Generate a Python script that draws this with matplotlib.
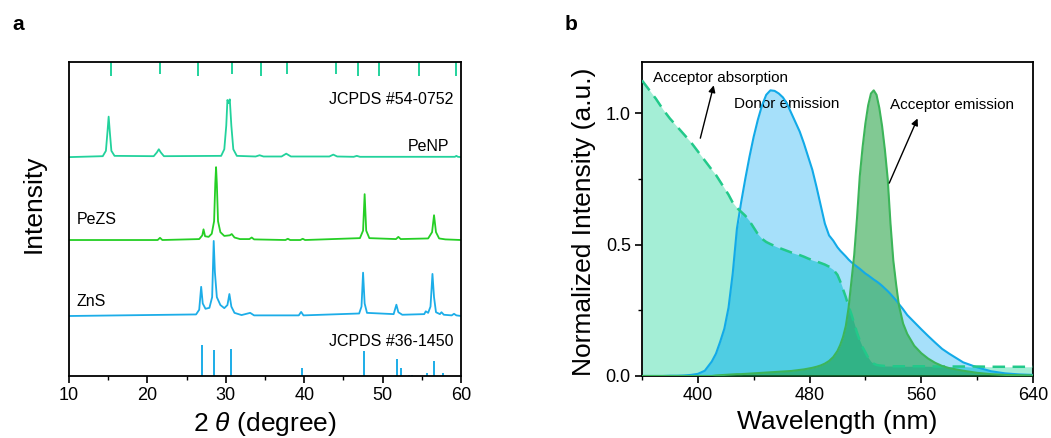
import numpy as np
import matplotlib
matplotlib.use("Agg")
import matplotlib.pyplot as plt
from matplotlib.ticker import MultipleLocator

plt.rcParams['font.family'] = ['Liberation Sans', 'DejaVu Sans']
plt.rcParams['mathtext.fontset'] = 'custom'
plt.rcParams['mathtext.rm'] = 'Liberation Sans'
plt.rcParams['mathtext.it'] = 'Liberation Sans:italic'

# ---------------- Panel a data (XRD) ----------------
penp_2theta = [10, 14.3, 14.7, 14.9, 15.05, 15.2, 15.4, 15.8, 20.8, 21.2, 21.45, 21.7, 22.1,
               29.4, 29.8, 30.05, 30.2, 30.35, 30.5, 30.7, 30.95, 31.4, 33.8, 34.3, 34.8,
               37.1, 37.7, 38.3, 43.2, 43.7, 44.2, 46.3, 46.7, 47.1, 59.2, 59.4, 59.6, 60]
penp_int = [0, 0.3, 2, 8, 12.9, 8, 2, 0.4, 0.3, 1.5, 2.5, 1.5, 0.3,
            0.4, 2.5, 10, 18.2, 17.2, 18.4, 10, 2.5, 0.4, 0.2, 0.6, 0.2,
            0.2, 1.1, 0.2, 0.2, 0.8, 0.2, 0.1, 0.4, 0.1, 0.1, 0.4, 0.1, 0]

pezs_2theta = [10, 21.3, 21.6, 21.9, 26.6, 27.0, 27.15, 27.35, 27.8, 28.2, 28.5, 28.65, 28.75,
               28.85, 29.0, 29.3, 29.8, 30.5, 30.75, 31.1, 31.8, 33.0, 33.3, 33.6, 37.6, 37.9,
               38.2, 39.5, 39.8, 40.1, 47.1, 47.5, 47.7, 47.9, 48.3, 51.7, 52.0, 52.3,
               55.8, 56.3, 56.55, 56.8, 57.2, 58, 60]
pezs_int = [0, 0, 0.7, 0, 0.3, 1.5, 3.4, 1.2, 1.0, 2, 6, 18, 23.2,
            18, 6, 2.5, 1.3, 1.5, 1.9, 0.8, 0.3, 0.3, 0.8, 0.2, 0, 0.4,
            0, 0, 0.4, 0, 0.6, 3, 14.6, 3, 0.6, 0.3, 1.0, 0.3,
            0.5, 2.5, 7.9, 2.5, 0.5, 0.2, 0]

zns_2theta = [10, 26.2, 26.6, 26.85, 27.05, 27.4, 27.9, 28.25, 28.45, 28.6, 28.85, 29.3, 29.8,
              30.2, 30.45, 30.7, 31.1, 32.0, 33.1, 33.6, 39.3, 39.6, 39.9, 47.0, 47.3, 47.5,
              47.7, 48.0, 51.4, 51.75, 52.0, 52.5, 55.3, 55.5, 55.8, 56.1, 56.35, 56.55, 56.8,
              57.3, 57.5, 57.8, 58.8, 59.1, 59.4, 60]
zns_int = [0, 0.5, 2, 9.3, 4, 2.3, 2.6, 6, 23.9, 14, 6, 3.5, 2.5,
           3.5, 7, 3, 1, 0.3, 1.0, 0.2, 0.2, 1.3, 0.2, 0.8, 3, 13.8,
           4, 1, 0.6, 3.6, 1.2, 0.4, 0.6, 1.5, 1.0, 3, 13.4, 6, 1.2,
           0.6, 1.2, 0.4, 0.2, 0.7, 0.2, 0]

jcpds_54_0752_pos = [15.3, 21.6, 26.5, 30.8, 34.45, 37.85, 44.05, 46.8, 49.5, 54.6, 59.35]
jcpds_54_0752_len = [4.5, 3.8, 4.5, 3.8, 4.5, 3.8, 3.8, 4.5, 4.5, 4.5, 4.5]

jcpds_36_1450_pos = [27.0, 28.55, 30.6, 39.7, 47.6, 51.8, 52.4, 53.3, 53.8, 55.6, 56.55, 57.65]
jcpds_36_1450_int = [9.9, 8.3, 8.6, 2.6, 8.0, 5.3, 2.5, 0.4, 0.4, 1.1, 4.7, 1.1]

# ---------------- Panel b data (spectra) ----------------
wavelength = [360, 365, 370, 375, 380, 385, 390, 395, 400, 405, 410, 413, 416, 419, 422, 425,
              428, 431, 434, 437, 440, 443, 446, 449, 452, 455, 458, 461, 464, 467, 470, 473,
              476, 479, 482, 485, 488, 491, 494, 497, 500, 502, 504, 506, 508, 510, 512, 514,
              516, 518, 520, 522, 524, 526, 528, 530, 532, 534, 536, 538, 540, 542, 544, 547,
              550, 555, 560, 565, 570, 575, 580, 590, 600, 610, 620, 630, 640]
donor_emission = [0.0, 0.0, 0.0, 0.0, 0.001, 0.001, 0.002, 0.004, 0.008, 0.02, 0.055, 0.085,
                  0.13, 0.18, 0.26, 0.39, 0.56, 0.66, 0.75, 0.834, 0.91, 0.975, 1.03, 1.07,
                  1.087, 1.085, 1.075, 1.06, 1.035, 1.0, 0.965, 0.93, 0.885, 0.835, 0.785,
                  0.72, 0.65, 0.58, 0.535, 0.515, 0.49, 0.477, 0.466, 0.455, 0.443, 0.433,
                  0.424, 0.416, 0.408, 0.399, 0.39, 0.383, 0.375, 0.367, 0.36, 0.352, 0.343,
                  0.333, 0.323, 0.312, 0.3, 0.288, 0.274, 0.254, 0.232, 0.205, 0.178, 0.152,
                  0.127, 0.103, 0.085, 0.052, 0.033, 0.018, 0.01, 0.006, 0.004]
acceptor_absorption = [1.125, 1.09, 1.055, 1.015, 0.98, 0.95, 0.92, 0.89, 0.855, 0.82, 0.785,
                       0.765, 0.74, 0.715, 0.69, 0.66, 0.64, 0.625, 0.61, 0.59, 0.565, 0.54,
                       0.522, 0.51, 0.502, 0.495, 0.488, 0.482, 0.476, 0.47, 0.465, 0.46, 0.454,
                       0.447, 0.441, 0.436, 0.43, 0.424, 0.416, 0.405, 0.385, 0.36, 0.33, 0.3,
                       0.265, 0.235, 0.2, 0.165, 0.135, 0.11, 0.09, 0.07, 0.055, 0.047, 0.042,
                       0.04, 0.039, 0.038, 0.038, 0.038, 0.037, 0.037, 0.037, 0.037, 0.037,
                       0.037, 0.037, 0.037, 0.036, 0.036, 0.036, 0.036, 0.036, 0.035, 0.035,
                       0.035, 0.035]
acceptor_emission = [0, 0, 0, 0, 0, 0, 0, 0, 0, 0, 0, 0.002, 0.003, 0.004, 0.005, 0.006,
                     0.007, 0.007, 0.008, 0.009, 0.01, 0.011, 0.012, 0.013, 0.014, 0.015,
                     0.016, 0.017, 0.018, 0.019, 0.021, 0.023, 0.025, 0.028, 0.031, 0.035,
                     0.04, 0.047, 0.057, 0.072, 0.095, 0.118, 0.148, 0.19, 0.26, 0.36, 0.46,
                     0.6, 0.76, 0.87, 0.96, 1.03, 1.075, 1.087, 1.07, 1.02, 0.95, 0.86, 0.75,
                     0.58, 0.44, 0.35, 0.27, 0.2, 0.16, 0.115, 0.087, 0.066, 0.05, 0.038, 0.03,
                     0.02, 0.012, 0.007, 0.004, 0.003, 0.002]

# ---------------- Figure ----------------
fig = plt.figure(figsize=(10.51, 4.38), dpi=100)
ax1 = fig.add_axes([0.0657, 0.1416, 0.3730, 0.7169])
ax2 = fig.add_axes([0.6108, 0.1416, 0.3720, 0.7169])

c_penp = '#22d29c'
c_pezs = '#25cf25'
c_zns = '#1cade8'
lw = 1.3

offsets = {'penp': 69.7, 'pezs': 43.3, 'zns': 19.1}
ax1.plot(penp_2theta, np.array(penp_int) + offsets['penp'], color=c_penp, lw=lw)
ax1.plot(pezs_2theta, np.array(pezs_int) + offsets['pezs'], color=c_pezs, lw=lw)
ax1.plot(zns_2theta, np.array(zns_int) + offsets['zns'], color=c_zns, lw=lw)
ax1.vlines(jcpds_54_0752_pos, 100 - np.array(jcpds_54_0752_len), 100, color=c_penp, lw=1.4)
ax1.vlines(jcpds_36_1450_pos, 0, jcpds_36_1450_int, color=c_zns, lw=1.4)

tfs = 11.5
ax1.text(59.0, 87.9, 'JCPDS #54-0752', ha='right', va='center', fontsize=tfs)
ax1.text(58.5, 73.0, 'PeNP', ha='right', va='center', fontsize=tfs)
ax1.text(11.0, 49.7, 'PeZS', ha='left', va='center', fontsize=tfs)
ax1.text(10.9, 23.6, 'ZnS', ha='left', va='center', fontsize=tfs)
ax1.text(59.0, 10.9, 'JCPDS #36-1450', ha='right', va='center', fontsize=tfs)

ax1.set_xlim(10, 60)
ax1.set_ylim(0, 100)
ax1.set_yticks([])
ax1.xaxis.set_major_locator(MultipleLocator(10))
ax1.xaxis.set_minor_locator(MultipleLocator(5))
ax1.tick_params(axis='x', which='major', direction='out', length=5, width=1.2, labelsize=13, pad=3)
ax1.tick_params(axis='x', which='minor', direction='out', length=3, width=1.0)
ax1.set_xlabel(r'2 $\it{\theta}$ (degree)', fontsize=19, labelpad=4)
ax1.set_ylabel('Intensity', fontsize=19)
ax1.yaxis.set_label_coords(-0.06, 0.55)
for s in ax1.spines.values():
    s.set_linewidth(1.3)

# Panel b
wl = np.array(wavelength)
don = np.array(donor_emission)
absn = np.array(acceptor_absorption)
emi = np.array(acceptor_emission)

ax2.fill_between(wl, 0, absn, color='#a4eed6', lw=0, zorder=1)
ax2.fill_between(wl, 0, don, color='#a6e0fa', lw=0, zorder=1)
ax2.fill_between(wl, 0, np.minimum(absn, don), color='#4fcde3', lw=0, zorder=2)
ax2.fill_between(wl, 0, emi, color='#1a9e3a', alpha=0.55, lw=0, zorder=3)

ax2.plot(wl, don, color='#12aae8', lw=1.5, zorder=4)
ax2.plot(wl, absn, color='#22c98a', lw=1.8, ls=(0, (5, 3)), zorder=4)
ax2.plot(wl, emi, color='#3cb55a', lw=1.5, zorder=4)

afs = 11
ax2.text(367.9, 1.133, 'Acceptor absorption', ha='left', va='center', fontsize=afs)
ax2.text(425.7, 1.034, 'Donor emission', ha='left', va='center', fontsize=afs)
ax2.text(537.9, 1.030, 'Acceptor emission', ha='left', va='center', fontsize=afs)
arrow = dict(arrowstyle='-|>', color='black', lw=1.0, mutation_scale=10, shrinkA=0, shrinkB=0)
ax2.annotate('', xy=(411.4, 1.106), xytext=(401.8, 0.905), arrowprops=arrow, zorder=5)
ax2.annotate('', xy=(557.4, 0.98), xytext=(537.1, 0.734), arrowprops=arrow, zorder=5)

ax2.set_xlim(360, 640)
ax2.set_ylim(0, 1.195)
ax2.set_xticks([400, 480, 560, 640])
ax2.xaxis.set_minor_locator(MultipleLocator(40))
ax2.set_yticks([0.0, 0.5, 1.0])
ax2.yaxis.set_minor_locator(MultipleLocator(0.25))
ax2.tick_params(which='major', direction='out', length=5, width=1.2, labelsize=13, pad=3)
ax2.tick_params(which='minor', direction='out', length=3, width=1.0)
ax2.set_xlabel('Wavelength (nm)', fontsize=19, labelpad=4)
ax2.set_ylabel('Normalized Intensity (a.u.)', fontsize=19)
ax2.yaxis.set_label_coords(-0.118, 0.49)
for s in ax2.spines.values():
    s.set_linewidth(1.3)

fig.text(0.012, 0.945, 'a', fontsize=15, fontweight='bold', va='center')
fig.text(0.537, 0.945, 'b', fontsize=15, fontweight='bold', va='center')

fig.savefig('out.png', dpi=100)
